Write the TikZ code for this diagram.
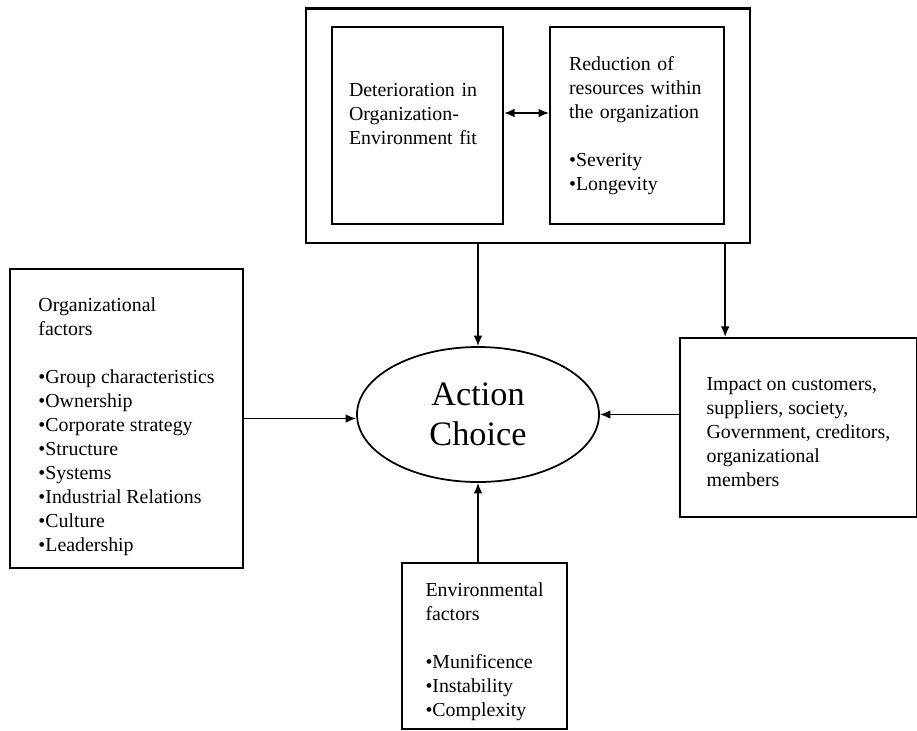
\documentclass[tikz,border=0pt]{standalone}
\usepackage{fontspec}
\setmainfont{Liberation Serif}
\usetikzlibrary{shapes.geometric, arrows.meta, positioning, fit}

\begin{document}
\begin{tikzpicture}[
        box/.style={rectangle, draw, line width=1.2pt, align=left, inner xsep=0.1cm, font=\fontsize{11.3pt}{13.7pt}\selectfont},
        group/.style={rectangle, draw, line width=1.2pt, inner xsep=0.5cm, inner ysep=0.35cm},
        choicebox/.style={ellipse, draw, line width=1pt, minimum width=4.84cm, minimum height=2.7cm, inner sep=0pt, align=center, font=\fontsize{19.5pt}{22.5pt}\selectfont},
        arrow/.style={line width=1pt, -{Latex[length=6pt, width=5pt]}}
    ]
        \useasboundingbox (0,0) rectangle (18.34,-14.6);

        % Top group (crisis conditions)
        \node[box, text width=2.74cm, inner xsep=0.34cm, minimum height=3.94cm] (det) at (8.35,-2.51) {Deterioration in\\Organization-\\Environment fit\rule[-0.46cm]{0pt}{0.46cm}};
        \node[box, text width=2.72cm, inner xsep=0.38cm, minimum height=3.94cm, right=0.9cm of det] (red) {Reduction of\\resources within\\the organization\\[\baselineskip]•Severity\\•Longevity};
        \node[group, fit=(det)(red)] (crisis) {};

        % Centre
        \node[choicebox] (choice) at (9.56,-8.29) {Action\\Choice};

        % Surrounding factors
        \node[box, minimum width=4.66cm, minimum height=5.98cm, left=2.24cm of choice, yshift=-0.08cm] (org) {\rule{0pt}{0.6cm}Organizational\\factors\\[\baselineskip]•Group characteristics\\•Ownership\\•Corporate strategy\\•Structure\\•Systems\\•Industrial Relations\\•Culture\\•Leadership};
        \node[box, minimum width=4.74cm, minimum height=3.58cm, right=1.58cm of choice, yshift=-0.26cm] (impact) {\rule{0pt}{0.43cm}Impact on customers,\\suppliers, society,\\Government, creditors,\\organizational\\members};
        \node[box, minimum width=3.3cm, minimum height=3.32cm, below=1.58cm of choice, xshift=0.13cm] (env) {\rule{0pt}{0.5cm}Environmental\\factors\\[\baselineskip]•Munificence\\•Instability\\•Complexity};

        % Edges
        \draw[arrow, {Latex[length=6pt, width=5pt]}-{Latex[length=6pt, width=5pt]}] ([yshift=0.25cm]det.east) -- ([yshift=0.25cm]red.west);
        \draw[arrow] (crisis.south -| choice.north) -- (choice.north);
        \draw[arrow] (crisis.south -| red.east) -- (impact.north -| red.east);
        \draw[arrow] (org.east) -- (org.east -| choice.west);
        \draw[arrow] (impact.west |- choice.east) -- (choice.east);
        \draw[arrow] (env.north -| choice.south) -- (choice.south);

    \end{tikzpicture}
\end{document}
